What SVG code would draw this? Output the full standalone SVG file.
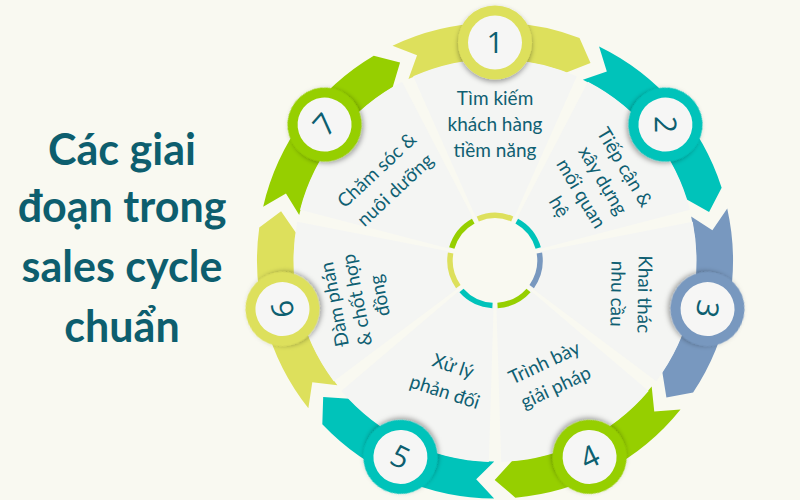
<svg xmlns="http://www.w3.org/2000/svg" width="800" height="500" viewBox="0 0 800 500">
  <style>
    .title { font-family: Lato, "Noto Sans", "DejaVu Sans", sans-serif; font-weight: 700; font-size: 43px; fill: #0d5e6e; text-anchor: middle; }
    .lbl { font-family: Lato, "Noto Sans", "DejaVu Sans", sans-serif; font-size: 19px; fill: #0f5f72; text-anchor: middle; }
    .num { font-family: "Open Sans", "Noto Sans", sans-serif; font-size: 30px; fill: #0d5f70; text-anchor: middle; }
    .wedge { fill: #f4f5f3; }
    .ring { fill: none; stroke-width: 5.5; }
    .inner { fill: #f6f6f5; }
    .yel { fill: #dde05c; } .tea { fill: #00c3ba; } .blu { fill: #7898bf; } .gre { fill: #96cf00; }
    .syel { stroke: #dde05c; } .stea { stroke: #00c3ba; } .sblu { stroke: #7898bf; } .sgre { stroke: #96cf00; }
  </style>
  <defs>
    <path id="rib" d="M392.54,45.68 A238,238 0 0 1 579.52,38.01 L590.53,62.88 L566.38,72.60 A201,201 0 0 0 408.47,79.08 L417.05,55.30 Z"/>
    <path id="wed" d="M476.73,219.38 L413.18,76.36 A201.5,201.5 0 0 1 576.82,76.36 L513.27,219.38 A45,45 0 0 0 476.73,219.38 Z"/>
    <path id="arc" d="M477.78,218.93 A45,45 0 0 1 512.22,218.93"/>
    <filter id="sh" x="-40%" y="-40%" width="180%" height="180%">
      <feDropShadow dx="0" dy="2.5" stdDeviation="2.5" flood-color="#000" flood-opacity="0.35"/>
    </filter>
  </defs>

  <rect width="800" height="500" fill="#f9f9f1"/>

  <g id="title">
    <text class="title" x="122" y="165">Các giai</text>
    <text class="title" x="122" y="222">đoạn trong</text>
    <text class="title" x="122" y="282">sales cycle</text>
    <text class="title" x="122" y="342">chuẩn</text>
  </g>

  <g id="connectors">
    <use href="#rib" class="yel"/>
    <use href="#rib" class="tea" transform="rotate(51.4286 495 260.5)"/>
    <use href="#rib" class="blu" transform="rotate(102.8571 495 260.5)"/>
    <use href="#rib" class="gre" transform="rotate(154.2857 495 260.5)"/>
    <use href="#rib" class="tea" transform="rotate(205.7143 495 260.5)"/>
    <use href="#rib" class="yel" transform="rotate(257.1429 495 260.5)"/>
    <use href="#rib" class="gre" transform="rotate(308.5714 495 260.5)"/>
  </g>

  <g id="node-1">
    <use href="#wed" class="wedge"/>
    <use href="#arc" class="ring syel"/>
    <g>
      <circle cx="495" cy="42.5" r="37" class="yel" filter="url(#sh)"/>
      <circle cx="495" cy="42.5" r="27" class="inner"/>
      <text class="num" x="495" y="53.2">1</text>
    </g>
    <text class="lbl" x="495" y="104.5">Tìm kiếm</text>
    <text class="lbl" x="495" y="130.5">khách hàng</text>
    <text class="lbl" x="495" y="156.5">tiềm năng</text>
  </g>

  <g id="node-2">
    <g transform="rotate(51.4286 495 260.5)">
      <use href="#wed" class="wedge"/>
      <use href="#arc" class="ring stea"/>
      <circle cx="495" cy="42.5" r="37" class="tea" filter="url(#sh)"/>
      <circle cx="495" cy="42.5" r="27" class="inner"/>
      <text class="num" x="495" y="53.2" transform="rotate(38 495 42.5)">2</text>
    </g>
    <g transform="translate(592 187) rotate(59)">
      <text class="lbl" x="0" y="-31.75">Tiếp cận &amp;</text>
      <text class="lbl" x="0" y="-6.25">xây dựng</text>
      <text class="lbl" x="0" y="19.25">mối quan</text>
      <text class="lbl" x="0" y="44.75">hệ</text>
    </g>
  </g>

  <g id="node-3">
    <g transform="rotate(102.8571 495 260.5)">
      <use href="#wed" class="wedge"/>
      <use href="#arc" class="ring sblu"/>
      <circle cx="495" cy="42.5" r="37" class="blu" filter="url(#sh)"/>
      <circle cx="495" cy="42.5" r="27" class="inner"/>
      <text class="num" x="495" y="53.2" transform="rotate(-3 495 42.5)">3</text>
    </g>
    <g transform="translate(631 294) rotate(91)">
      <text class="lbl" x="0" y="-7">Khai thác</text>
      <text class="lbl" x="0" y="20">nhu cầu</text>
    </g>
  </g>

  <g id="node-4">
    <g transform="rotate(154.2857 495 260.5)">
      <use href="#wed" class="wedge"/>
      <use href="#arc" class="ring sgre"/>
      <circle cx="495" cy="42.5" r="37" class="gre" filter="url(#sh)"/>
      <circle cx="495" cy="42.5" r="27" class="inner"/>
      <text class="num" x="495" y="53.2" transform="rotate(180 495 42.5)">4</text>
    </g>
    <g transform="translate(550 375) rotate(-25)">
      <text class="lbl" x="0" y="-7">Trình bày</text>
      <text class="lbl" x="0" y="20">giải pháp</text>
    </g>
  </g>

  <g id="node-5">
    <g transform="rotate(205.7143 495 260.5)">
      <use href="#wed" class="wedge"/>
      <use href="#arc" class="ring stea"/>
      <circle cx="495" cy="42.5" r="37" class="tea" filter="url(#sh)"/>
      <circle cx="495" cy="42.5" r="27" class="inner"/>
      <text class="num" x="495" y="53.2" transform="rotate(180 495 42.5)">5</text>
    </g>
    <g transform="translate(449 379) rotate(18)">
      <text class="lbl" x="0" y="-7">Xử lý</text>
      <text class="lbl" x="0" y="20">phản đối</text>
    </g>
  </g>

  <g id="node-6">
    <g transform="rotate(257.1429 495 260.5)">
      <use href="#wed" class="wedge"/>
      <use href="#arc" class="ring syel"/>
      <circle cx="495" cy="42.5" r="37" class="yel" filter="url(#sh)"/>
      <circle cx="495" cy="42.5" r="27" class="inner"/>
      <text class="num" x="495" y="53.2" transform="rotate(3 495 42.5)">6</text>
    </g>
    <g transform="translate(357 300) rotate(-101)">
      <text class="lbl" x="0" y="-16.5">Đàm phán</text>
      <text class="lbl" x="0" y="6.5">&amp; chốt hợp</text>
      <text class="lbl" x="0" y="29.5">đồng</text>
    </g>
  </g>

  <g id="node-7">
    <g transform="rotate(308.5714 495 260.5)">
      <use href="#wed" class="wedge"/>
      <use href="#arc" class="ring sgre"/>
      <circle cx="495" cy="42.5" r="37" class="gre" filter="url(#sh)"/>
      <circle cx="495" cy="42.5" r="27" class="inner"/>
      <text class="num" x="495" y="53.2" transform="rotate(3 495 42.5)">7</text>
    </g>
    <g transform="translate(386 180) rotate(-43)">
      <text class="lbl" x="0" y="-7">Chăm sóc &amp;</text>
      <text class="lbl" x="0" y="20">nuôi dưỡng</text>
    </g>
  </g>
</svg>
